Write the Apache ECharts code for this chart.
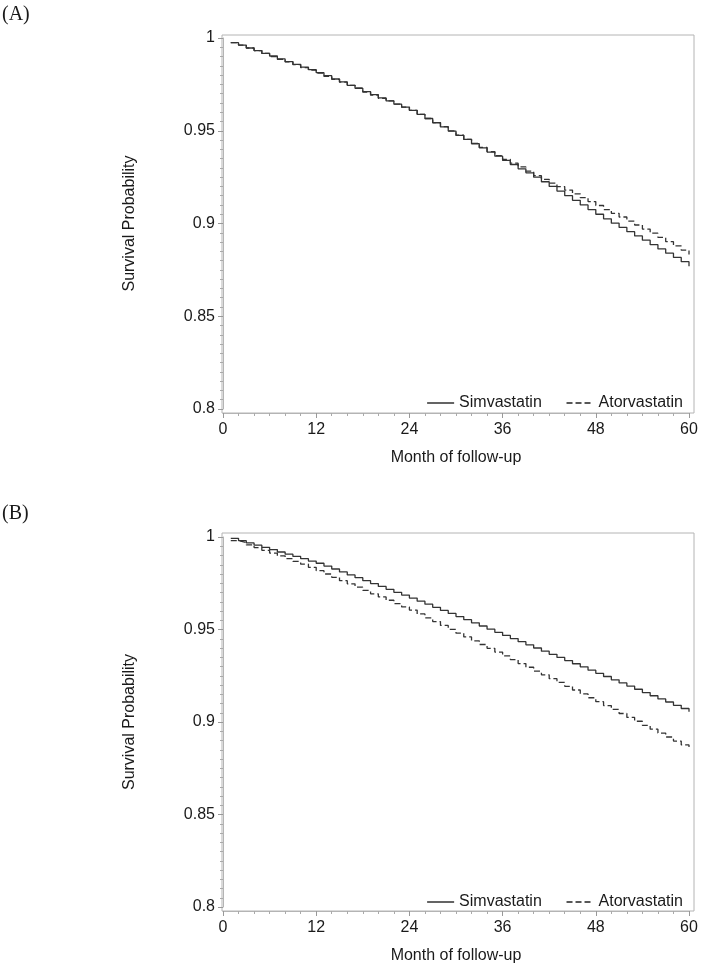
<!DOCTYPE html>
<html>
<head>
<meta charset="utf-8">
<script src="https://cdn.jsdelivr.net/npm/echarts@6/dist/echarts.min.js"></script>
<style>
html,body{margin:0;padding:0;background:#fff;}
#chart{width:704px;height:971px;}
</style>
</head>
<body>
<div id="chart"></div>
<script>
var months = [1,2,3,4,5,6,7,8,9,10,11,12,13,14,15,16,17,18,19,20,21,22,23,24,25,26,27,28,29,30,
  31,32,33,34,35,36,37,38,39,40,41,42,43,44,45,46,47,48,49,50,51,52,53,54,55,56,57,58,59,60];

var simA = [0.9975,0.9962,0.9946,0.9932,0.9917,0.9903,0.9887,0.9873,0.9858,0.9843,0.9829,0.9813,
  0.9797,0.9779,0.9763,0.9745,0.9729,0.9711,0.9695,0.9677,0.9661,0.9643,0.9627,0.9610,
  0.9588,0.9566,0.9543,0.9521,0.9498,0.9475,0.9453,0.9430,0.9408,0.9385,0.9363,0.9340,
  0.9318,0.9295,0.9273,0.9250,0.9225,0.9200,0.9175,0.9150,0.9125,0.9100,0.9075,0.9050,
  0.9025,0.9002,0.8979,0.8956,0.8933,0.8910,0.8886,0.8863,0.8840,0.8817,0.8794,0.8770];

var atoA = [0.9975,0.9962,0.9946,0.9932,0.9917,0.9900,0.9885,0.9871,0.9856,0.9840,0.9827,0.9811,
  0.9793,0.9777,0.9762,0.9745,0.9729,0.9708,0.9692,0.9675,0.9661,0.9643,0.9627,0.9610,
  0.9588,0.9566,0.9544,0.9522,0.9499,0.9476,0.9454,0.9432,0.9410,0.9388,0.9366,0.9345,
  0.9325,0.9305,0.9282,0.9258,0.9238,0.9218,0.9199,0.9180,0.9160,0.9139,0.9118,0.9097,
  0.9075,0.9055,0.9035,0.9013,0.8992,0.8970,0.8948,0.8925,0.8902,0.8879,0.8856,0.8833];

var simB = [0.9993,0.9980,0.9968,0.9956,0.9944,0.9932,0.9919,0.9907,0.9895,0.9883,0.9870,0.9858,
  0.9843,0.9827,0.9811,0.9795,0.9780,0.9764,0.9748,0.9733,0.9717,0.9701,0.9686,0.9670,
  0.9653,0.9637,0.9620,0.9603,0.9587,0.9570,0.9553,0.9536,0.9519,0.9502,0.9485,0.9468,
  0.9451,0.9434,0.9417,0.9400,0.9383,0.9366,0.9349,0.9332,0.9315,0.9298,0.9280,0.9263,
  0.9246,0.9228,0.9211,0.9194,0.9177,0.9159,0.9142,0.9125,0.9108,0.9090,0.9073,0.9056];

var atoB = [0.9980,0.9970,0.9957,0.9943,0.9928,0.9913,0.9898,0.9883,0.9868,0.9853,0.9836,0.9818,
  0.9800,0.9782,0.9764,0.9747,0.9729,0.9711,0.9693,0.9676,0.9658,0.9640,0.9622,0.9605,
  0.9584,0.9563,0.9543,0.9522,0.9501,0.9480,0.9460,0.9439,0.9419,0.9398,0.9378,0.9357,
  0.9337,0.9316,0.9296,0.9275,0.9255,0.9234,0.9214,0.9193,0.9173,0.9152,0.9131,0.9110,
  0.9089,0.9068,0.9046,0.9025,0.9004,0.8982,0.8961,0.8940,0.8919,0.8897,0.8876,0.8855];

var seriesNames = ['Simvastatin', 'Atorvastatin'];
var panelLabels = ['(A)', '(B)'];
var xTitle = 'Month of follow-up';
var yTitle = 'Survival Probability';

function pairs(xs, ys) { return xs.map(function (m, i) { return [m, ys[i]]; }); }

var SANS = '"Liberation Sans", Arial, sans-serif';
var FRAME = '#b4b4b4';
var LINE = '#333333';
var TXT = '#1a1a1a';

var panels = [
  { top: 38, height: 371, frameTop: 35, frameHeight: 378, data: [simA, atoA], legendTop: 390, labelTop: 5 },
  { top: 537, height: 370, frameTop: 533, frameHeight: 378, data: [simB, atoB], legendTop: 889, labelTop: 504 }
];

var grid = [], xAxis = [], yAxis = [], series = [], legend = [], title = [];
panels.forEach(function (p, k) {
  grid.push({ left: 223, width: 466, top: p.top, height: p.height });
  grid.push({ left: 222, width: 472, top: p.frameTop, height: p.frameHeight, show: true,
    borderColor: FRAME, borderWidth: 1, backgroundColor: 'transparent', z: 0 });
  var gi = 2 * k, fi = 2 * k + 1;
  xAxis.push({
    gridIndex: gi, type: 'value', min: 0, max: 60, interval: 12, offset: 4,
    name: xTitle, nameLocation: 'middle', nameGap: 37,
    nameTextStyle: { fontFamily: SANS, fontSize: 16, color: TXT },
    axisLine: { show: true, lineStyle: { color: FRAME, width: 1 } },
    axisTick: { show: true, length: 5, lineStyle: { color: '#999' } },
    minorTick: { show: true, splitNumber: 6, length: 3, lineStyle: { color: '#aaa' } },
    axisLabel: { fontFamily: SANS, fontSize: 16, color: TXT, margin: 9 },
    splitLine: { show: false }
  });
  yAxis.push({
    gridIndex: gi, type: 'value', min: 0.8, max: 1, interval: 0.05, offset: 1,
    name: yTitle, nameLocation: 'middle', nameGap: 84, nameRotate: 90,
    nameTextStyle: { fontFamily: SANS, fontSize: 16, color: TXT },
    axisLine: { show: true, lineStyle: { color: FRAME, width: 1 } },
    axisTick: { show: true, length: 5, lineStyle: { color: '#999' } },
    minorTick: { show: true, splitNumber: 10, length: 3, lineStyle: { color: '#aaa' } },
    axisLabel: { fontFamily: SANS, fontSize: 16, color: TXT, margin: 7 },
    splitLine: { show: false }
  });
  xAxis.push({ gridIndex: fi, type: 'value', show: false, min: 0, max: 1 });
  yAxis.push({ gridIndex: fi, type: 'value', show: false, min: 0, max: 1 });

  series.push({
    name: seriesNames[0], type: 'line', xAxisIndex: gi, yAxisIndex: gi, step: 'end',
    showSymbol: false, symbol: 'none', silent: true, animation: false,
    lineStyle: { color: LINE, width: 1.3, type: 'solid' }, itemStyle: { color: LINE },
    data: pairs(months, p.data[0])
  });
  series.push({
    name: seriesNames[1], type: 'line', xAxisIndex: gi, yAxisIndex: gi, step: 'end',
    showSymbol: false, symbol: 'none', silent: true, animation: false,
    lineStyle: { color: LINE, width: 1.3, type: [6, 3] }, itemStyle: { color: LINE },
    data: pairs(months, p.data[1])
  });

  legend.push({
    show: true, data: seriesNames, right: 16, top: p.legendTop, orient: 'horizontal',
    itemWidth: 27, itemHeight: 14, itemGap: 24, selectedMode: false,
    itemStyle: { opacity: 0, color: 'rgba(0,0,0,0)', borderWidth: 0 },
    lineStyle: { width: 1.4, color: '#222222', opacity: 1 },
    textStyle: { fontFamily: SANS, fontSize: 16, color: TXT }
  });

  title.push({
    text: panelLabels[k], left: 2, top: p.labelTop, padding: 0,
    textStyle: { fontFamily: '"Liberation Serif", "DejaVu Serif", serif', fontSize: 20, fontWeight: 'normal', color: TXT }
  });
});

var chart = echarts.init(document.getElementById('chart'), null, { renderer: 'canvas' });
chart.setOption({
  backgroundColor: '#ffffff',
  animation: false,
  title: title,
  grid: grid,
  xAxis: xAxis,
  yAxis: yAxis,
  legend: legend,
  series: series
});
</script>
</body>
</html>
